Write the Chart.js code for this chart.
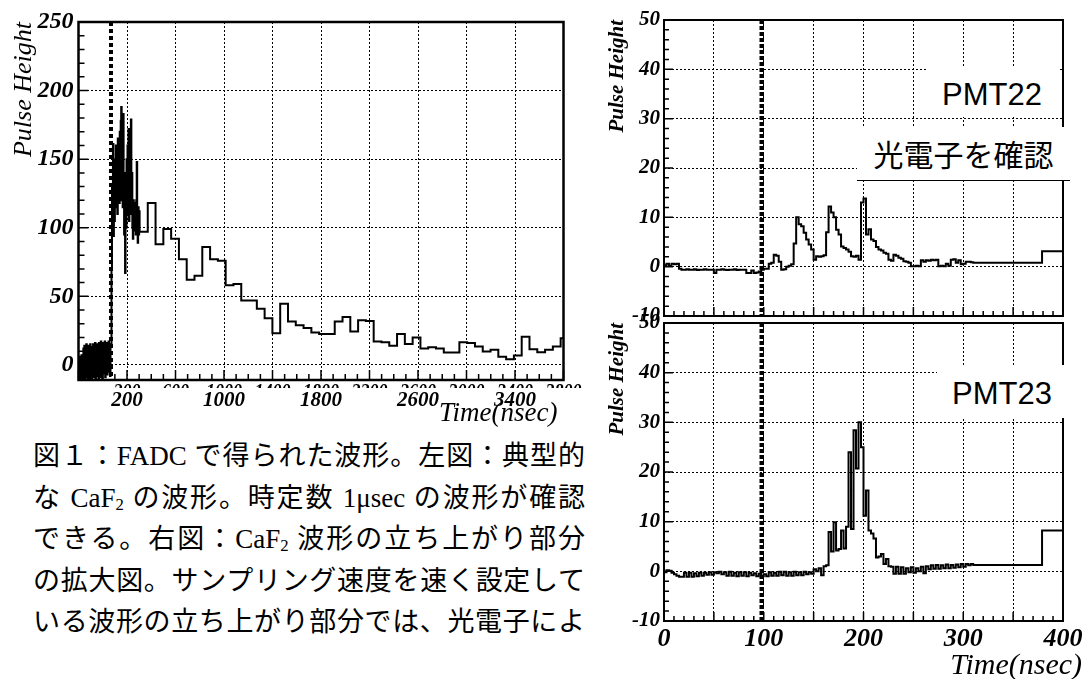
<!DOCTYPE html>
<html>
<head>
<meta charset="utf-8">
<script src="https://cdn.jsdelivr.net/npm/chart.js@4/dist/chart.umd.min.js"></script>
<style>
  html, body { margin: 0; padding: 0; background: #fff; }
  #page { position: relative; width: 1087px; height: 679px; overflow: hidden; background: #fff; }
  canvas { position: absolute; }
  .caption {
    position: absolute; left: 33px; width: 552px; height: 40px;
    font-family: "Liberation Serif", "Noto Sans CJK JP", serif;
    font-size: 27px; line-height: 40px; color: #000;
    text-align: justify; text-align-last: justify;
  }
  .caption sub { font-size: 0.62em; line-height: 0; vertical-align: -0.2em; }
  .tag {
    position: absolute; background: #fff; color: #000;
    font-family: "Liberation Sans", Arial, sans-serif; font-size: 31px;
    white-space: nowrap;
  }
  .tag.jp { font-family: "Noto Sans CJK JP", sans-serif; font-size: 30px; text-align: center;
            border-bottom: 1px solid #000; box-sizing: border-box; }
</style>
</head>
<body>
<div id="page">
  <canvas id="leftChart" width="600" height="435" style="left:0;top:0;width:600px;height:435px"></canvas>
  <canvas id="pmt22Chart" width="497" height="340" style="left:590px;top:0;width:497px;height:340px"></canvas>
  <canvas id="pmt23Chart" width="497" height="379" style="left:590px;top:300px;width:497px;height:379px"></canvas>

  <div class="tag" style="left:928px;top:67px;width:130px;height:50px;line-height:55px;padding-left:14px;box-sizing:border-box;">PMT22</div>
  <div class="tag jp" style="left:857px;top:127px;width:213px;height:54px;line-height:53px;">光電子を確認</div>
  <div class="tag" style="left:937px;top:365px;width:138px;height:53px;line-height:57px;padding-left:15px;box-sizing:border-box;">PMT23</div>

  <div class="caption" style="top:436px">図１：FADC で得られた波形。左図：典型的</div>
  <div class="caption" style="top:478px">な CaF<sub>2</sub> の波形。時定数 1μsec の波形が確認</div>
  <div class="caption" style="top:519px">できる。右図：CaF<sub>2</sub> 波形の立ち上がり部分</div>
  <div class="caption" style="top:561px">の拡大図。サンプリング速度を速く設定して</div>
  <div class="caption" style="top:602px">いる波形の立ち上がり部分では、光電子によ</div>
</div>

<script>
// ---------- Left panel: full CaF2 pulse recorded by the FADC ----------
// Pre-trigger noise, sampled every 4 ns from -200 ns
const LEFT_NOISE_START = -200;
const LEFT_NOISE_STEP = 4;
const leftNoise = [2, -9, 6, -10, 4, -8, 7, -11, 5, -9,
  12, -6, 14, -10, 10, -4, 15, -9, 8, -11,
  14, -5, 12, -10, 15, -7, 9, -11, 13, -3,
  15, -9, 11, -6, 16, -10, 10, -4, 15, -8,
  12, -11, 16, -5, 13, -9, 17, -3, 11, -10,
  16, -6, 14, -2, 17, -9, 12, -4, 16, -7,
  13, -2, 17, -5, 15, -8, 14];

// Fast-sampled leading edge, every 4 ns from 68 ns
const LEFT_SPIKE_START = 68;
const LEFT_SPIKE_STEP = 4;
const leftSpike = [15, 70, 130, 110, 161, 94, 135, 105, 150, 115,
  160, 120, 145, 110, 165, 125, 160, 118, 170, 130,
  178, 188, 120, 150, 115, 183, 140, 95, 130, 67,
  140, 100, 150, 110, 160, 120, 172, 105, 140, 118,
  150, 179, 110, 140, 100, 92, 120, 98, 115, 100,
  118, 95, 120, 148, 100, 89, 115, 95, 112, 97];

// Slow tail, one bin per ~64 ns from 307 ns
const LEFT_TAIL_START = 307;
const LEFT_TAIL_STEP = 64.25;
const leftTail = [97, 118, 88, 99, 92, 77, 62, 65, 86, 77,
  76, 58, 59, 47, 47, 41, 34, 23, 44.5, 31.6,
  29, 27, 23.6, 22.5, 22.5, 31.6, 35, 24.3, 32.5, 32,
  17, 16.5, 14, 22.6, 15.3, 20, 12, 12.9, 12, 9,
  9, 16.5, 16, 13.4, 9.7, 11, 6, 4.1, 6.8, 20.6,
  11.4, 9.2, 11, 13.4, 19.4];

const leftTriggerTime = 68;
const leftXGrid = [200, 600, 1000, 1400, 1800, 2200, 2600, 3000, 3400];
const leftXLabels = [200, 1000, 1800, 2600, 3400];
const leftFaintLabels = [200, 600, 1000, 1400, 1800, 2200, 2600, 3000, 3400, 3800];
const leftYTicks = [0, 50, 100, 150, 200, 250];

// ---------- Right panels: leading edge, 2.5 ns sampling ----------
const FAST_STEP_NS = 2.5;
const pmt22Fast = [0.3, 0.6, 0.2, 0.6, 0.5, 0.6, -0.4, -0.6, -0.6, -0.5,
  -0.6, -0.6, -0.5, -0.7, -0.6, -0.6, -0.5, -0.6, -0.6, -0.6,
  -1.3, -0.6, -0.6, -0.5, -0.6, -0.7, -0.6, -0.6, -0.5, -0.7,
  -0.6, -0.6, -0.6, -1.3, -1.3, -0.8, -1.3, -1.2, -1.0, -0.6,
  -0.4, -0.4, 0.6, 0.8, 2.4, 2.2, 1.0, -0.6, -0.5, 0.0,
  0.2, 0.5, 4.7, 10.0, 8.6, 8.2, 6.9, 5.5, 4.5, 3.5,
  1.4, 2.1, 2.0, 2.1, 2.3, 7.0, 12.2, 11.0, 10.0, 7.5,
  6.5, 4.1, 3.8, 3.5, 3.0, 2.1, 2.0, 2.2, 1.4, 13.0,
  13.8, 6.5, 7.6, 5.5, 5.2, 4.0, 3.5, 3.3, 2.8, 2.6,
  1.4, 1.2, 2.4, 2.2, 1.8, 1.6, 1.1, 1.0, 0.8, 0.1,
  0.1, 0.2, 0.1, 1.3, 1.0, 1.3, 1.2, 1.4, 1.3, 1.4,
  0.1, 0.2, 0.1, 0.6, 0.2, 1.4, 1.5, 0.8, 1.3, 0.5,
  0.6, 1.0, 1.0, 0.9];
const pmt23Fast = [-0.2, 0.2, 0.1, -0.3, -0.6, -0.9, -1.1, -1.1, -0.3, -1.1,
  -0.3, -1.1, -0.4, -1.0, -0.3, -0.9, -0.3, -0.7, -0.2, -0.7,
  -0.2, -0.4, -0.1, -0.6, -0.2, -0.9, -0.1, -0.9, -0.3, -1.0,
  -0.2, -0.9, -0.2, -1.0, -0.3, -0.8, -0.4, -1.0, -0.5, -1.0,
  -0.6, -1.0, -0.2, -0.9, -0.3, -0.9, -0.1, -0.8, -0.1, -0.9,
  -0.2, -0.9, -0.1, -0.8, -0.2, -0.8, -0.1, -0.6, -0.2, -0.5,
  0.4, 0.0, 0.6, -0.8, 1.0, 1.2, 7.9, 4.0, 9.9, 4.2,
  4.5, 8.2, 4.6, 9.0, 24.0, 8.5, 28.4, 20.7, 30.0, 25.0,
  11.2, 16.3, 8.2, 7.6, 6.6, 2.8, 3.0, 3.5, 1.5, 2.5,
  1.0, 0.9, -0.5, 0.9, -0.5, 0.8, -0.5, 0.6, -0.2, 0.8,
  -0.3, 0.6, 0.0, 0.9, -0.4, 1.0, 0.4, 1.2, 0.5, 1.3,
  0.5, 1.2, 0.6, 1.4, 0.6, 1.3, 0.7, 1.4, 0.8, 1.5,
  0.9, 1.5, 1.2, 1.5];
// Long samples at the end of the record window
const lateEdges = [310, 379, 400];
const pmt22Late = [0.8, 3.1];
const pmt23Late = [1.3, 8.2];

const rightTriggerTime = 98;
const rightXGrid = [0, 50, 100, 150, 200, 250, 300, 350, 400];
const rightXLabels = [0, 100, 200, 300, 400];
const rightYTicks = [-10, 0, 10, 20, 30, 40, 50];

// ---------- helpers ----------
const SERIF = '"Liberation Serif"';

function stepPoints(start, step, values) {
  return values.map((v, i) => ({ x: start + i * step, y: v }));
}

function leftSeries() {
  const pts = [
    ...stepPoints(LEFT_NOISE_START, LEFT_NOISE_STEP, leftNoise),
    ...stepPoints(LEFT_SPIKE_START, LEFT_SPIKE_STEP, leftSpike),
    ...stepPoints(LEFT_TAIL_START, LEFT_TAIL_STEP, leftTail)
  ];
  pts.push({ x: LEFT_TAIL_START + leftTail.length * LEFT_TAIL_STEP, y: leftTail[leftTail.length - 1] });
  return pts;
}

function rightSeries(fast, late) {
  const pts = stepPoints(0, FAST_STEP_NS, fast);
  late.forEach((v, i) => pts.push({ x: lateEdges[i], y: v }));
  pts.push({ x: lateEdges[lateEdges.length - 1], y: late[late.length - 1] });
  return pts;
}

function onGrid(v, from, step) {
  const k = (v - from) / step;
  return Math.abs(k - Math.round(k)) < 1e-6;
}

// Frame, inward tick marks, dotted trigger line and the time-axis title, ROOT style
function rootAxes(cfg) {
  return {
    id: 'rootAxes',
    afterDatasetsDraw(chart) {
      const { ctx, chartArea: a, scales: { x, y } } = chart;
      ctx.save();
      ctx.strokeStyle = '#000';
      ctx.fillStyle = '#000';

      const mx = x.getPixelForValue(cfg.marker);
      ctx.beginPath();
      ctx.setLineDash(cfg.markerDash);
      ctx.lineWidth = cfg.markerWidth;
      ctx.moveTo(mx, a.top);
      ctx.lineTo(mx, a.bottom);
      ctx.stroke();
      ctx.setLineDash([]);

      ctx.beginPath();
      ctx.lineWidth = 1.5;
      for (let v = cfg.xMinorFrom; v <= x.max + 1e-6; v += cfg.xMinor) {
        const px = x.getPixelForValue(v);
        const len = onGrid(v, cfg.xMajorFrom, cfg.xMajor) ? cfg.majorLen : cfg.minorLen;
        ctx.moveTo(px, a.bottom);
        ctx.lineTo(px, a.bottom - len);
      }
      for (let v = cfg.yMinorFrom; v <= y.max + 1e-6; v += cfg.yMinor) {
        const py = y.getPixelForValue(v);
        const len = onGrid(v, 0, cfg.yMajor) ? cfg.majorLen : cfg.minorLen;
        ctx.moveTo(a.left, py);
        ctx.lineTo(a.left + len, py);
      }
      ctx.stroke();

      ctx.lineWidth = cfg.frameWidth;
      ctx.strokeRect(a.left, a.top, a.right - a.left, a.bottom - a.top);

      if (cfg.faintLabels) {
        // second label row, mostly hidden under the main labels
        ctx.save();
        ctx.beginPath();
        ctx.rect(a.left - 30, a.bottom + 3, a.right - a.left + 60, 5);
        ctx.clip();
        ctx.font = 'italic bold 18px ' + SERIF;
        ctx.textAlign = 'center';
        ctx.textBaseline = 'top';
        cfg.faintLabels.forEach(v => ctx.fillText(String(v), x.getPixelForValue(v), a.bottom + 3));
        ctx.restore();
      }
      if (cfg.xTitle) {
        ctx.font = 'italic ' + cfg.xTitle.size + 'px ' + SERIF;
        ctx.textAlign = 'right';
        ctx.textBaseline = 'middle';
        ctx.fillText(cfg.xTitle.text, a.right + cfg.xTitle.dx, a.bottom + cfg.xTitle.dy);
      }
      ctx.restore();
    }
  };
}

function makeChart(id, p) {
  return new Chart(document.getElementById(id), {
    type: 'line',
    data: {
      datasets: [{
        data: p.points,
        borderColor: '#000',
        borderWidth: 2,
        pointRadius: 0,
        stepped: 'before',
        fill: false,
        tension: 0
      }]
    },
    options: {
      responsive: false,
      animation: false,
      devicePixelRatio: 1,
      parsing: false,
      normalized: true,
      events: [],
      layout: { padding: p.padding },
      plugins: { legend: { display: false }, tooltip: { enabled: false } },
      scales: {
        x: {
          type: 'linear', min: p.xMin, max: p.xMax, bounds: 'data',
          afterBuildTicks: s => { s.ticks = p.xGrid.map(v => ({ value: v })); },
          afterFit: s => { s.height = p.xHeight; },
          grid: { color: '#000', lineWidth: 1, drawTicks: false },
          border: { display: false, dash: [2, 2] },
          ticks: {
            display: p.xLabelsShown, autoSkip: false, maxRotation: 0, padding: p.xLabelPad,
            color: '#000', font: { family: SERIF, size: p.xLabelSize, style: 'italic', weight: 'bold' },
            callback: v => (p.xLabels.includes(v) ? String(v) : '')
          }
        },
        y: {
          type: 'linear', min: p.yMin, max: p.yMax, bounds: 'data',
          afterBuildTicks: s => { s.ticks = p.yTicks.map(v => ({ value: v })); },
          afterFit: s => { s.width = p.yWidth; },
          grid: { color: '#000', lineWidth: 1, drawTicks: false },
          border: { display: false, dash: [2, 2] },
          ticks: {
            autoSkip: false, padding: p.yLabelPad, color: '#000',
            font: { family: SERIF, size: p.yLabelSize, style: 'italic', weight: 'bold' }
          },
          title: {
            display: true, text: 'Pulse Height', align: 'end', color: '#000',
            font: { family: SERIF, size: p.yTitleSize, style: 'italic', weight: p.yTitleWeight, lineHeight: 1.2 },
            padding: { top: p.yTitlePad, bottom: 0 }
          }
        }
      }
    },
    plugins: [rootAxes(p.axes)]
  });
}

// ---------- left panel ----------
makeChart('leftChart', {
  points: leftSeries(),
  padding: { left: 0, top: 22, right: 36.5, bottom: 0 },
  xMin: -200, xMax: 3800, xGrid: leftXGrid, xLabels: leftXLabels, xLabelsShown: true,
  xHeight: 55, xLabelPad: 8, xLabelSize: 21,
  yMin: -11, yMax: 250, yTicks: leftYTicks, yWidth: 78.5, yLabelPad: 5, yLabelSize: 24,
  yTitleSize: 26, yTitleWeight: 'normal', yTitlePad: 9,
  axes: {
    marker: leftTriggerTime, markerDash: [4, 3], markerWidth: 4,
    xMinorFrom: -200, xMinor: 100, xMajorFrom: 200, xMajor: 400,
    yMinorFrom: -10, yMinor: 10, yMajor: 50,
    majorLen: 10, minorLen: 6, frameWidth: 2.5,
    faintLabels: leftFaintLabels,
    xTitle: { text: 'Time(nsec)', size: 27, dx: -6, dy: 34 }
  }
});

// ---------- right panels ----------
const rightCommon = {
  xMin: 0, xMax: 400, xGrid: rightXGrid, xLabels: rightXLabels,
  yMin: -10, yMax: 50, yTicks: rightYTicks, yWidth: 74, yLabelPad: 4, yLabelSize: 21,
  yTitleSize: 21, yTitleWeight: 'bold', yTitlePad: 15,
  xLabelPad: 3, xLabelSize: 26
};
const rightAxes = {
  marker: rightTriggerTime, markerDash: [4, 2], markerWidth: 4.5,
  xMinorFrom: 0, xMinor: 10, xMajorFrom: 0, xMajor: 50,
  yMinorFrom: -10, yMinor: 2, yMajor: 10,
  majorLen: 9, minorLen: 5, frameWidth: 2
};

makeChart('pmt22Chart', Object.assign({}, rightCommon, {
  points: rightSeries(pmt22Fast, pmt22Late),
  padding: { left: 0, top: 20, right: 24, bottom: 0 },
  xHeight: 24, xLabelsShown: false,
  axes: rightAxes
}));

makeChart('pmt23Chart', Object.assign({}, rightCommon, {
  points: rightSeries(pmt23Fast, pmt23Late),
  padding: { left: 0, top: 23, right: 24, bottom: 0 },
  xHeight: 58, xLabelsShown: true,
  axes: Object.assign({}, rightAxes, { xTitle: { text: 'Time(nsec)', size: 30, dx: 19, dy: 45 } })
}));
</script>
</body>
</html>
